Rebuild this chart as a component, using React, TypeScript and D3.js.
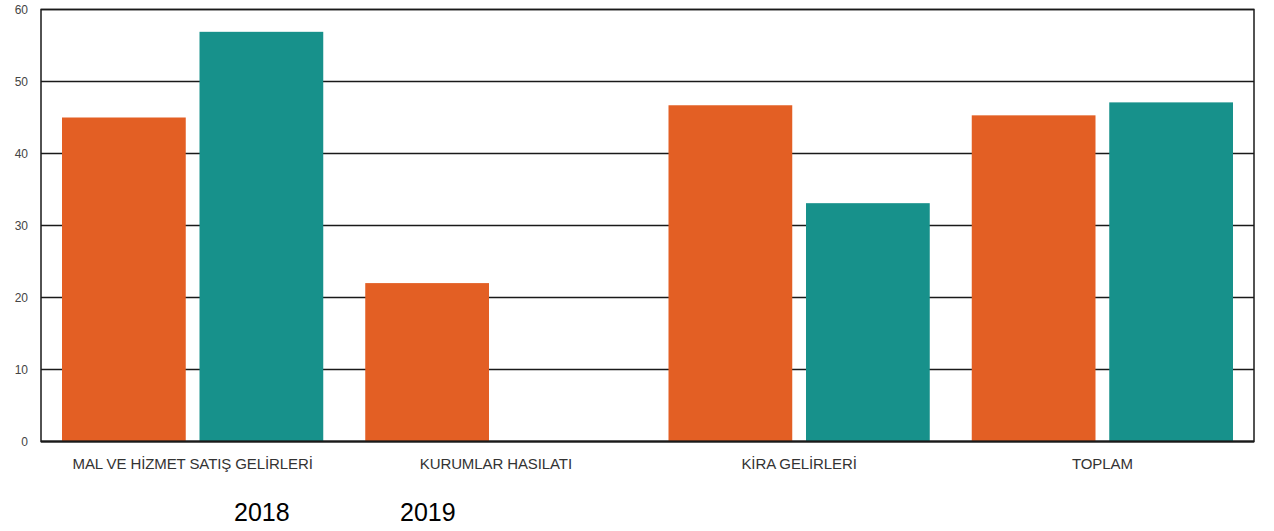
import React from "react";
import * as d3 from "d3";

const categories = [
  "MAL VE HİZMET SATIŞ GELİRLERİ",
  "KURUMLAR HASILATI",
  "KİRA GELİRLERİ",
  "TOPLAM",
];
const seriesNames = ["2018", "2019"];
const values2018 = [45, 22, 46.7, 45.3];
const values2019 = [56.9, 0, 33.1, 47.1];
const yTicks = [0, 10, 20, 30, 40, 50, 60];
const colors = ["#e35f24", "#17918b"];

const width = 1274;
const height = 531;
const margin = { top: 9.5, right: 20, bottom: 89.5, left: 41 };

export default function App() {
  const x0 = d3.scaleBand<string>()
    .domain(categories)
    .range([margin.left, width - margin.right])
    .padding(0);
  const x1 = d3.scaleBand<string>()
    .domain(seriesNames)
    .range([21, x0.bandwidth() - 21])
    .paddingInner(0.1);
  const y = d3.scaleLinear()
    .domain([0, 60])
    .range([height - margin.bottom, margin.top]);

  const series = [values2018, values2019];

  return (
    <svg width={width} height={height} style={{ position: "fixed", left: 0, top: 0, background: "#fff" }}>
      {/* grid lines */}
      {yTicks.map(t => (
        <line key={t} x1={margin.left} x2={width - margin.right} y1={y(t)} y2={y(t)}
          stroke="#1a1a1a" strokeWidth={1.5} />
      ))}
      {/* bars */}
      {categories.map((c, i) => (
        <g key={c} transform={`translate(${x0(c)},0)`}>
          {seriesNames.map((s, j) => {
            const v = series[j][i];
            if (!v) return null;
            return (
              <rect key={s} x={x1(s)} width={x1.bandwidth()} y={y(v)} height={y(0) - y(v)} fill={colors[j]} />
            );
          })}
        </g>
      ))}
      {/* frame */}
      <rect x={margin.left} y={margin.top} width={width - margin.right - margin.left}
        height={y(0) - margin.top} fill="none" stroke="#1a1a1a" strokeWidth={1.5} />
      <line x1={margin.left} x2={width - margin.right} y1={y(0)} y2={y(0)} stroke="#1a1a1a" strokeWidth={2} />
      {/* y tick labels */}
      {yTicks.map(t => (
        <text key={t} x={28} y={y(t)} dy="0.35em" textAnchor="end" fontSize={12}
          fontFamily="Liberation Sans, Arial, sans-serif" fill="#444">{t}</text>
      ))}
      {/* category labels */}
      {categories.map(c => (
        <text key={c} x={(x0(c) || 0) + x0.bandwidth() / 2} y={468.5} textAnchor="middle" fontSize={15}
          letterSpacing={-0.1} fontFamily="Liberation Sans, Arial, sans-serif" fill="#333">{c}</text>
      ))}
      {/* legend */}
      {seriesNames.map((s, j) => (
        <text key={s} x={234 + j * 166} y={521} fontSize={25}
          fontFamily="Liberation Sans, Arial, sans-serif" fill="#000">{s}</text>
      ))}
    </svg>
  );
}
